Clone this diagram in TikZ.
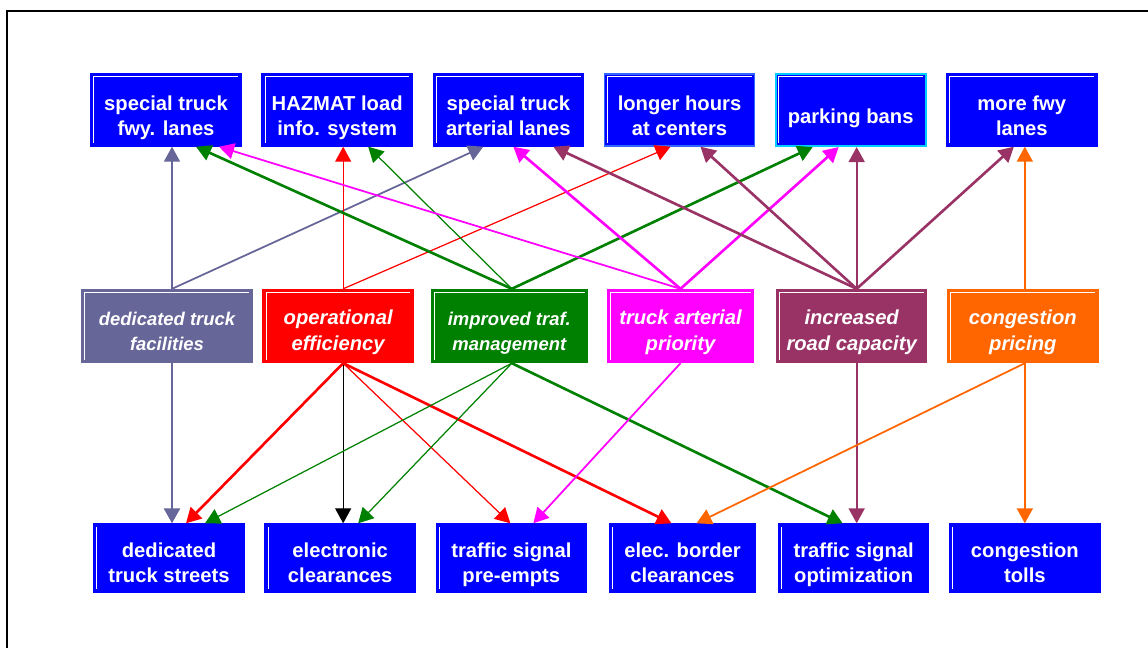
\documentclass[tikz,border=0pt]{standalone}
\usepackage{fontspec}
\setmainfont{Liberation Sans}
\usetikzlibrary{arrows.meta,calc}

\definecolor{facgray}{HTML}{666699}
\definecolor{mgmtgreen}{HTML}{008000}
\definecolor{prioviolet}{HTML}{FF00FF}
\definecolor{capplum}{HTML}{993366}
\definecolor{priceorange}{HTML}{FF6600}
\definecolor{hourblue}{HTML}{3366FF}
\definecolor{bancyan}{HTML}{00CCFF}

\newcommand\boxfont{\fontsize{11.5}{14.7}\selectfont}
\newcommand\smallboxfont{\fontsize{10.5}{14.2}\selectfont}

\begin{document}
\begin{tikzpicture}[x=0.02cm, y=-0.02cm, node distance=3.424cm,
    >={Triangle[length=0.3cm,width=0.32cm]},
    bevel/.style={path picture={\draw[white, line width=0.5pt]
        ([shift={(1.6pt,1.6pt)}]path picture bounding box.south west)
        |- ([shift={(-1.6pt,-1.6pt)}]path picture bounding box.north east);}},
    leftbevel/.style={path picture={\draw[white, line width=0.5pt]
        ([shift={(1.6pt,1.6pt)}]path picture bounding box.south west)
        -- ([shift={(1.6pt,-1.6pt)}]path picture bounding box.north west);}},
    goalbox/.style={draw=blue, fill=blue, text=white, line width=0.8pt, inner sep=0pt,
        minimum width=3cm, minimum height=1.44cm, align=center, font=\bfseries\boxfont,
        text height=29.4pt, text depth=0pt, bevel},
    toolbox/.style={goalbox, minimum height=1.36cm, text height=28.4pt, leftbevel},
    meansbox/.style={draw=#1, fill=#1, text=white, line width=0.8pt, inner sep=0pt,
        minimum width=3cm, minimum height=1.46cm, align=center,
        font=\bfseries\itshape\boxfont, text height=27.6pt, text depth=0pt, bevel},
    thinlink/.style={->, line width=0.7pt},
    midlink/.style={->, line width=1pt},
    thicklink/.style={->, line width=1.5pt}]

    % frame
    \useasboundingbox (0,0) rectangle (1148,647);
    \draw[line width=1pt] (7,11) rectangle (1200,700);

    % goals (top row)
    \node (fwylanes) [goalbox] at (166,110) {special truck\\fwy. lanes};
    \node (hazmat) [goalbox, right of=fwylanes] {HAZMAT load\\info. system};
    \node (artlanes) [goalbox, right of=hazmat] {special truck\\arterial lanes};
    \node (longhours) [goalbox, draw=hourblue, right of=artlanes] {longer hours\\at centers};
    \node (parkban) [goalbox, draw=bancyan, line width=1.2pt, text height=15.8pt, right of=longhours] {parking bans};
    \node (morefwy) [goalbox, right of=parkban] {more fwy\\lanes};

    % means (middle row)
    \node (dedfac) [meansbox=facgray, minimum width=3.4cm, font=\bfseries\itshape\smallboxfont] at (167,326) {dedicated truck\\facilities};
    \node (opeff) [meansbox=red, right of=dedfac] {operational\\efficiency};
    \node (trafmgmt) [meansbox=mgmtgreen, minimum width=3.12cm, font=\bfseries\itshape\smallboxfont, right of=opeff] {improved traf.\\management};
    \node (artprio) [meansbox=prioviolet, minimum width=2.92cm, right of=trafmgmt] {truck arterial\\priority};
    \node (roadcap) [meansbox=capplum, right of=artprio] {increased\\road capacity};
    \node (congprice) [meansbox=priceorange, right of=roadcap] {congestion\\pricing};

    % tools (bottom row)
    \node (dedstreets) [toolbox] at (169,558) {dedicated\\truck streets};
    \node (eclear) [toolbox, right of=dedstreets] {electronic\\clearances};
    \node (preempt) [toolbox, right of=eclear] {traffic signal\\pre-empts};
    \node (border) [toolbox, minimum width=2.92cm, right of=preempt] {elec. border\\clearances};
    \node (sigopt) [toolbox, right of=border] {traffic signal\\optimization};
    \node (tolls) [toolbox, right of=sigopt] {congestion\\tolls};

    % upward links
    \draw[midlink, facgray] ([xshift=0.1cm]dedfac.north) -- ([xshift=0.1cm]dedfac.north |- fwylanes.south);
    \draw[midlink, facgray] ([xshift=0.1cm]dedfac.north) -- ($(artlanes.south)+(-25,0)$);
    \draw[thinlink, red] ([xshift=0.1cm]opeff.north) -- ([xshift=0.1cm]opeff.north |- hazmat.south);
    \draw[thinlink, red] ([xshift=0.1cm]opeff.north) -- ($(longhours.south)+(-9,0)$);
    \draw[thicklink, mgmtgreen] ([xshift=0.05cm]trafmgmt.north) -- ($(fwylanes.south)+(30,0)$);
    \draw[thinlink, mgmtgreen] ([xshift=0.05cm]trafmgmt.north) -- ($(hazmat.south)+(31,0)$);
    \draw[thicklink, mgmtgreen] ([xshift=0.05cm]trafmgmt.north) -- ($(parkban.south)+(-38,0)$);
    \draw[midlink, prioviolet] (artprio.north) -- ($(fwylanes.south)+(53,0)$);
    \draw[thicklink, prioviolet] (artprio.north) -- ($(artlanes.south)+(5,0)$);
    \draw[thicklink, prioviolet] (artprio.north) -- ($(parkban.south)+(-12,0)$);
    \draw[thicklink, capplum] ([xshift=0.1cm]roadcap.north) -- ($(artlanes.south)+(45,0)$);
    \draw[thicklink, capplum] ([xshift=0.1cm]roadcap.north) -- ($(longhours.south)+(21,0)$);
    \draw[midlink, capplum] ([xshift=0.1cm]roadcap.north) -- ([xshift=0.1cm]roadcap.north |- parkban.south);
    \draw[thicklink, capplum] ([xshift=0.1cm]roadcap.north) -- ($(morefwy.south)+(-8,0)$);
    \draw[midlink, priceorange] ([xshift=0.04cm]congprice.north) -- ([xshift=0.04cm]congprice.north |- morefwy.south);

    % downward links
    \draw[thicklink, facgray] ([xshift=0.1cm]dedfac.south) -- ([xshift=0.1cm]dedfac.south |- dedstreets.north);
    \draw[thicklink, red] ([xshift=0.1cm]opeff.south) -- ($(dedstreets.north)+(17,0)$);
    \draw[thinlink, black] ([xshift=0.1cm]opeff.south) -- ([xshift=0.1cm]opeff.south |- eclear.north);
    \draw[thinlink, red] ([xshift=0.1cm]opeff.south) -- ($(preempt.north)+(-1,0)$);
    \draw[thicklink, red] ([xshift=0.1cm]opeff.south) -- ($(border.north)+(-11,0)$);
    \draw[thinlink, mgmtgreen] ([xshift=0.05cm]trafmgmt.south) -- ($(dedstreets.north)+(36,0)$);
    \draw[thinlink, mgmtgreen] ([xshift=0.05cm]trafmgmt.south) -- ($(eclear.north)+(18,0)$);
    \draw[thicklink, mgmtgreen] ([xshift=0.05cm]trafmgmt.south) -- ($(sigopt.north)+(-11,0)$);
    \draw[midlink, prioviolet] (artprio.south) -- ($(preempt.north)+(22,0)$);
    \draw[midlink, capplum] ([xshift=0.1cm]roadcap.south) -- ([xshift=0.1cm]roadcap.south |- sigopt.north);
    \draw[midlink, priceorange] ([xshift=0.04cm]congprice.south) -- ($(border.north)+(14,0)$);
    \draw[midlink, priceorange] ([xshift=0.04cm]congprice.south) -- ([xshift=0.04cm]congprice.south |- tolls.north);
\end{tikzpicture}
\end{document}
